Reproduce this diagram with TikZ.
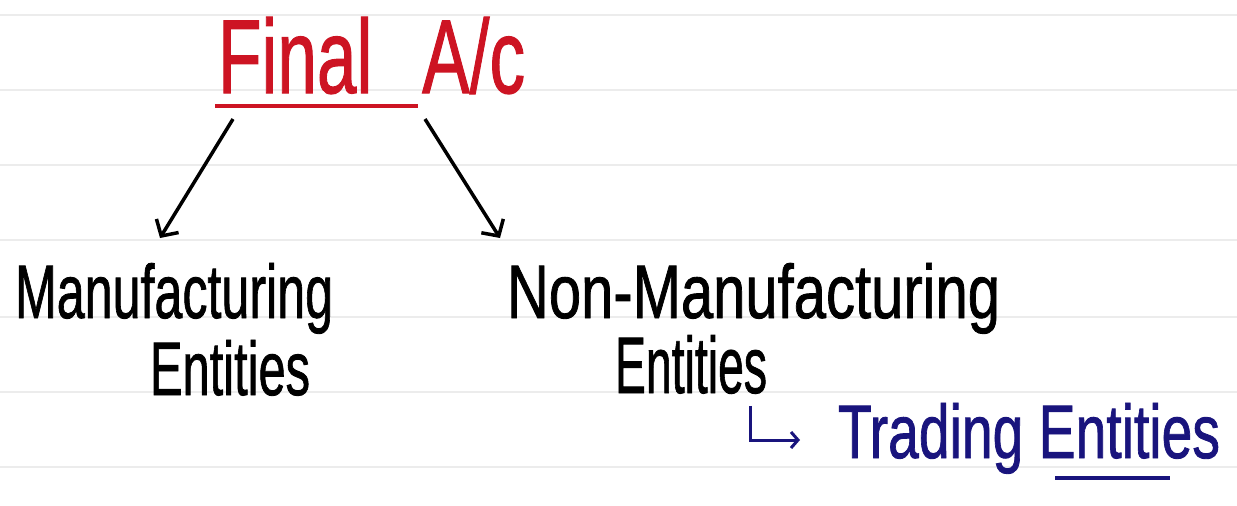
\documentclass[tikz,border=0pt]{standalone}
\usepackage{fontspec}
\setmainfont[FakeBold=1.2]{Liberation Sans}
\usetikzlibrary{arrows.meta,calc}
\definecolor{inkred}{RGB}{205,20,35}
\definecolor{inkblue}{RGB}{25,20,125}
\definecolor{ruleline}{RGB}{236,236,236}
\newcommand{\hw}[3]{\resizebox{#1pt}{#2pt}{#3}}
\begin{document}
\begin{tikzpicture}[x=1pt,y=-1pt,
  txt/.style={inner sep=0pt, outer sep=0pt, anchor=base west},
  arr/.style={line width=3.5pt, -{Straight Barb[length=12pt,width=26pt,line width=3.5pt]}},
  ruled/.style={ruleline, line width=2pt}]
\useasboundingbox (0,0) rectangle (1237,506);
\fill[white] (0,0) rectangle (1237,506);
\foreach \yy in {15,90,165,240,317,392,467} \draw[ruled] (0,\yy) -- (1237,\yy);

\node[txt, text=inkred] (final) at (218,93) {\hw{307}{76}{Final\hspace{0.7em}A/c}};
\draw[inkred, line width=4.5pt] ($(final.south west)+(-3,12)$) -- ($(final.south west)+(200,12)$);

\node[txt] (manu) at (15,318) {\hw{318}{55}{Manufacturing}};
\node[txt] (ent1) at (150,395) {\hw{160}{55}{Entities}};
\node[txt] (nonmanu) at (507,318) {\hw{493}{55}{Non-Manufacturing}};
\node[txt] (ent2) at (615,393) {\hw{152}{58}{Entities}};
\node[txt, text=inkblue] (trade) at (838,458) {\hw{382}{55}{Trading Entities}};

\draw[arr] ($(final.south west)+(15,25)$) -- ($(manu.north west)+(145,-25)$);
\draw[arr] ($(final.south west)+(207,25)$) -- ($(nonmanu.north west)+(-7,-25)$);

\coordinate (hook) at ($(ent2.south east)+(-17,12)$);
\draw[inkblue, line width=3pt, -{Straight Barb[length=7pt,width=16pt,line width=3pt]}]
  (hook) |- ($(trade.base west)+(-38,-18)$);
\draw[inkblue, line width=3.5pt] ($(trade.base east)+(-165,20)$) -- ($(trade.base east)+(-50,20)$);
\end{tikzpicture}
\end{document}
